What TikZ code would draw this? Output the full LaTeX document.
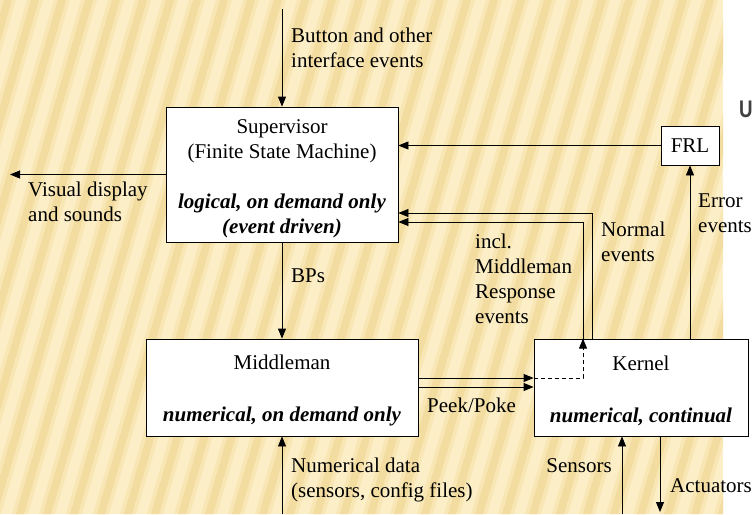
\documentclass[tikz,border=0pt]{standalone}
\usepackage{fontspec}
\setmainfont{Liberation Serif}
\setsansfont{Liberation Sans}
\usetikzlibrary{arrows.meta,positioning}
\definecolor{stripebase}{RGB}{252,238,198}
\definecolor{stripemid}{RGB}{248,230,181}
\definecolor{stripedark}{RGB}{243,220,160}

\begin{document}
\begin{tikzpicture}[x=1pt,y=-1pt,font=\fontsize{21}{25}\selectfont,
  block/.style={draw,fill=white,line width=0.8pt,inner sep=0pt,align=center},
  lbl/.style={inner sep=0pt,anchor=base west,align=left},
  flow/.style={line width=0.8pt,-{Triangle[length=10pt,width=8pt]}}]

  \useasboundingbox (0,0) rectangle (754,514);
  \fill[stripebase] (0,0) rectangle (723,514);
  \begin{scope}
    \clip (0,0) rectangle (723,514);
    \foreach \sx in {0,27,...,900} {
      \fill[stripemid] (\sx,0) -- ++(16,0) -- ++(-150,514) -- ++(-16,0) -- cycle;
      \fill[stripedark] (\sx+4,0) -- ++(8,0) -- ++(-150,514) -- ++(-8,0) -- cycle;
    }
  \end{scope}
  \node[font=\sffamily\bfseries\fontsize{24}{26}\selectfont,text=black!75,anchor=base west,inner sep=0pt] (ttl) at (739,117) {\scalebox{0.78}[1]{U}};

  \node[block,minimum width=232pt,minimum height=135pt] (sup) at (282,174.5)
    {\rule{0pt}{22pt}Supervisor\\(Finite State Machine)\\[25pt]\textbf{\textit{logical, on demand only}}\\\textbf{\textit{(event driven)}}};
  \node[block,minimum width=58pt,minimum height=39pt] (frl) at (690,145.5) {FRL};
  \node[block,minimum width=272pt,minimum height=97pt] (mid) at (282,387.5)
    {\rule{0pt}{21pt}Middleman\\[27pt]\textbf{\textit{numerical, on demand only}}};
  \node[block,minimum width=214pt,minimum height=97pt] (ker) at (641,387.5)
    {\rule{0pt}{21pt}Kernel\\[27pt]\textbf{\textit{numerical, continual}}};

  \coordinate (btnin) at (282,9);
  \coordinate (visout) at (10,174.5);
  \coordinate (nrm) at (592,213);
  \coordinate (rsp) at (583,222);
  \coordinate (pk) at (0,378);
  \coordinate (pp) at (0,387);
  \coordinate (numin) at (282,514);
  \coordinate (sens) at (622,514);
  \coordinate (act) at (660,512);

  \draw[flow] (btnin) -- (sup.north);
  \draw[flow] (sup.west) -- (visout);
  \draw[flow] (frl.west) -- (frl.west -| sup.east);
  \draw[flow] (ker.north -| frl.south) -- (frl.south);
  \draw[flow] (ker.north -| nrm) |- (sup.east |- nrm);
  \draw[flow] (ker.north -| rsp) |- (sup.east |- rsp);
  \draw[flow,dash pattern=on 4pt off 3pt] (ker.west |- pk) -| (ker.north -| rsp);
  \draw[flow] (mid.east |- pk) -- (ker.west |- pk);
  \draw[flow] (mid.east |- pp) -- (ker.west |- pp);
  \draw[flow] (sup.south) -- (mid.north);
  \draw[flow] (numin) -- (mid.south);
  \draw[flow] (sens) -- (ker.south -| sens);
  \draw[flow] (ker.south -| act) -- (act);

  \node[lbl] (btnlbl) at (291,67) {Button and other\\interface events};
  \node[lbl] (vislbl) at (28,221) {Visual display\\and sounds};
  \node[lbl] (errlbl) at (698,232) {Error\\events};
  \node[lbl] (nrmlbl) at (601,261) {Normal\\events};
  \node[lbl] (rsplbl) at (475,323) {incl.\\Middleman\\Response\\events};
  \node[lbl] (bplbl) at (291,282) {BPs};
  \node[lbl] (pplbl) at (427,412) {Peek/Poke};
  \node[lbl] (numlbl) at (291,497) {Numerical data\\(sensors, config files)};
  \node[lbl,anchor=base east] (senslbl) at (612,472) {Sensors};
  \node[lbl] (actlbl) at (670,492) {Actuators};
\end{tikzpicture}
\end{document}
